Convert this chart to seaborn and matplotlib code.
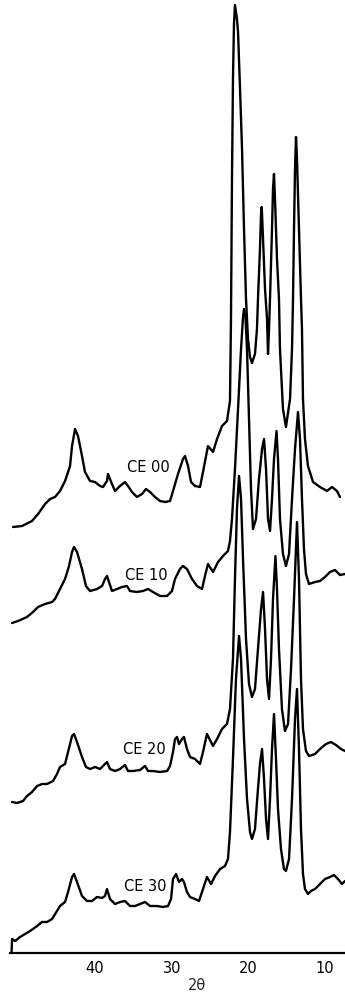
import numpy as np
import pandas as pd
import matplotlib
matplotlib.use("Agg")
import matplotlib.pyplot as plt
import seaborn as sns

# ---- data (2theta in degrees, intensity in arbitrary units) ----
samples = ["CE 00", "CE 10", "CE 20", "CE 30"]
offsets = [424, 329, 149, 9]

tt_ce00 = [50.69, 49.52, 48.22, 47.43, 46.52, 45.87, 45.22, 44.57, 43.91, 43.26, 43.00, 42.61, 42.22, 41.70,
           41.31, 40.65, 40.00, 39.35, 38.96, 38.44, 38.31, 37.79, 37.39, 36.74, 36.09, 35.70, 35.18, 34.53,
           33.87, 33.35, 32.83, 32.18, 31.53, 30.87, 30.22, 29.83, 29.18, 28.53, 28.27, 27.87, 27.48, 26.96,
           26.31, 25.92, 25.27, 24.61, 24.09, 23.44, 22.79,
           22.40, 22.27, 22.14, 22.01, 21.88, 21.75, 21.49, 21.35, 21.09, 20.83, 20.57, 20.31, 20.05, 19.79,
           19.53, 19.14, 18.88, 18.75, 18.49, 18.35, 18.26, 18.09, 17.83, 17.57, 17.44, 17.31, 17.18, 16.92,
           16.79, 16.66, 16.53, 16.27, 16.01, 15.88, 15.49, 15.10, 14.57, 14.31, 14.18, 14.05, 13.92, 13.79,
           13.66, 13.40, 13.14, 13.01, 12.88, 12.62, 12.23, 11.57, 10.66, 9.75, 9.10, 8.45, 8.05]
int_ce00 = [2, 3, 8, 15, 25, 30, 32, 38, 48, 63, 83, 100, 93, 73,
            57, 48, 47, 43, 42, 48, 55, 45, 38, 43, 47, 43, 37, 32,
            35, 40, 37, 32, 28, 27, 28, 38, 55, 70, 73, 63, 47, 43,
            42, 57, 83, 77, 90, 103, 108,
            128, 210, 350, 450, 505, 524, 510, 497, 440, 380, 300, 230, 190, 172,
            166, 175, 200, 230, 280, 315, 322, 290, 240, 210, 175, 200, 230, 300,
            340, 355, 330, 270, 230, 180, 120, 102, 130, 180, 230, 300, 360, 392,
            370, 300, 230, 200, 130, 90, 63, 47, 42, 38, 42, 38, 32]

tt_ce10 = [50.82, 50.04, 48.87, 48.09, 47.43, 46.52, 45.61, 45.22, 44.57, 43.91, 43.39, 43.00, 42.74, 42.35,
           41.70, 41.18, 40.65, 39.74, 39.09, 38.70, 38.44, 38.18, 37.79, 37.13, 36.48, 35.83, 35.44, 34.53,
           33.74, 33.09, 32.44, 31.53, 30.61, 29.96, 29.57, 28.92, 28.53, 28.01, 27.35, 26.70, 26.05, 25.66,
           25.27, 24.61, 23.96, 23.31, 22.66, 22.40,
           22.14, 21.75, 21.35, 20.96, 20.70, 20.57, 20.38, 20.18, 19.92, 19.66, 19.40, 19.01, 18.62, 18.22,
           17.96, 17.70, 17.44, 17.18, 16.92, 16.66, 16.33, 16.14, 15.88, 15.49, 15.10, 14.70, 14.31, 13.92,
           13.53, 13.27, 13.01, 12.75, 12.49, 12.10, 11.31, 10.66, 10.01, 9.36, 8.71, 8.05, 7.40]
int_ce10 = [1, 3, 7, 12, 17, 20, 22, 25, 35, 45, 58, 72, 77, 72,
            55, 38, 33, 35, 38, 45, 48, 42, 33, 35, 37, 38, 33, 32,
            33, 35, 32, 28, 28, 33, 45, 55, 58, 55, 45, 38, 35, 48,
            60, 52, 62, 68, 73, 83,
            105, 155, 215, 275, 307, 315, 307, 275, 205, 135, 95, 105, 145, 175,
            185, 155, 105, 93, 125, 165, 193, 165, 105, 70, 58, 70, 125, 175,
            212, 185, 125, 75, 50, 40, 42, 43, 47, 52, 54, 49, 50]

tt_ce20 = [50.82, 50.17, 49.39, 48.87, 48.22, 47.56, 46.91, 46.26, 45.48, 44.96, 44.57, 43.91, 43.52, 43.00,
           42.74, 42.35, 41.70, 41.18, 40.65, 40.00, 39.35, 38.70, 38.44, 38.05, 37.39, 36.74, 36.09, 35.70,
           35.05, 34.13, 33.48, 33.09, 32.44, 31.53, 30.61, 30.22, 29.83, 29.57, 29.31, 29.05, 28.66, 28.40,
           28.01, 27.61, 26.96, 26.31, 25.92, 25.40, 24.87, 24.61, 24.09, 23.44, 22.79, 22.40,
           22.01, 21.75, 21.49, 21.22, 20.96, 20.70, 20.31, 19.92, 19.53, 19.14, 18.75, 18.35, 18.09, 17.83,
           17.57, 17.31, 17.05, 16.79, 16.47, 16.27, 16.01, 15.62, 15.23, 14.83, 14.44, 14.05, 13.66, 13.40,
           13.14, 12.88, 12.49, 12.10, 11.31, 10.66, 9.88, 9.23, 8.58, 7.92, 7.40]
int_ce20 = [2, 1, 3, 8, 12, 18, 20, 20, 23, 30, 37, 40, 52, 68,
            70, 62, 47, 37, 35, 37, 35, 40, 42, 35, 33, 35, 39, 33,
            33, 34, 38, 33, 33, 32, 33, 38, 52, 65, 67, 60, 65, 67,
            55, 47, 45, 40, 52, 70, 62, 58, 65, 75, 80, 95,
            145, 225, 295, 328, 305, 245, 165, 120, 107, 115, 155, 195, 212, 175,
            125, 105, 145, 205, 248, 215, 155, 95, 73, 80, 135, 205, 282, 225,
            125, 75, 53, 48, 50, 55, 60, 62, 59, 55, 53]

tt_ce30 = [50.89, 50.82, 50.43, 49.78, 49.13, 48.47, 47.56, 46.91, 46.26, 45.61, 44.96, 44.57, 43.91, 43.52,
           43.00, 42.74, 42.35, 41.70, 41.04, 40.39, 39.74, 39.09, 38.70, 38.44, 38.05, 37.39, 36.74, 36.09,
           35.44, 34.79, 34.13, 33.48, 32.83, 31.92, 31.13, 30.48, 30.09, 29.83, 29.44, 29.05, 28.66, 28.40,
           28.01, 27.61, 26.96, 26.44, 25.92, 25.40, 24.87, 24.35, 23.70, 23.05, 22.66, 22.40,
           22.01, 21.62, 21.22, 20.96, 20.57, 20.18, 19.79, 19.53, 19.14, 18.75, 18.49, 18.22, 17.96, 17.70,
           17.44, 17.18, 16.92, 16.66, 16.40, 16.14, 15.75, 15.36, 15.10, 14.70, 14.31, 13.92, 13.66, 13.40,
           13.14, 12.88, 12.62, 12.23, 11.84, 11.31, 10.66, 10.01, 9.36, 8.84, 8.32, 7.79, 7.40]
int_ce30 = [-9, 5, 3, 7, 10, 13, 18, 22, 22, 25, 33, 38, 42, 52,
            67, 70, 62, 48, 43, 43, 47, 46, 48, 55, 45, 40, 42, 43,
            38, 38, 40, 42, 38, 38, 37, 38, 45, 65, 70, 62, 65, 62,
            52, 47, 45, 43, 55, 67, 60, 68, 75, 78, 85, 112,
            185, 265, 308, 285, 205, 145, 112, 105, 115, 155, 180, 195, 165, 125,
            105, 145, 195, 230, 185, 135, 95, 75, 73, 85, 145, 225, 255, 195,
            115, 70, 55, 50, 53, 55, 60, 65, 67, 69, 65, 60, 63]

two_theta = [tt_ce00, tt_ce10, tt_ce20, tt_ce30]
intensity = [int_ce00, int_ce10, int_ce20, int_ce30]

x_ticks = [50, 40, 30, 20, 10]
x_tick_labels = ["", "40", "30", "20", "10"]

# ---- build long table ----
rows = []
for s, off, tt, it in zip(samples, offsets, two_theta, intensity):
    for a, b in zip(tt, it):
        rows.append({"sample": s, "two_theta": a, "y": b + off})
df = pd.DataFrame(rows)

sns.set_style("white")
plt.rcParams["font.family"] = ["DejaVu Sans"]

fig = plt.figure(figsize=(3.45, 9.95), dpi=100)
ax = fig.add_axes([10 / 345, 41 / 995, 335 / 345, 954 / 995])

sns.lineplot(data=df, x="two_theta", y="y", hue="sample", units="sample", estimator=None,
             palette=["black"] * 4, legend=False, linewidth=1.7, sort=False, ax=ax)

ax.set_xlim(51.09, 7.40)
ax.set_ylim(0, 954)

for sp in ["top", "left", "right"]:
    ax.spines[sp].set_visible(False)
ax.spines["bottom"].set_color("black")
ax.spines["bottom"].set_linewidth(1.6)

ax.set_yticks([])
ax.set_ylabel("")
ax.set_xticks(x_ticks)
ax.set_xticklabels(x_tick_labels)
ax.tick_params(axis="x", direction="in", length=5, width=1.3, pad=5, labelsize=10.5, colors="black")
ax.set_xlabel("2θ", fontsize=10.5)
ax.xaxis.set_label_coords(0.558, -0.025)
ax.xaxis.label.set_va("top")

# sample labels
label_pos = [(33.1, 63), (33.35, 50), (33.5, 55), (33.5, 58)]
for s, off, (lx, ly) in zip(samples, offsets, label_pos):
    ax.text(lx, off + ly, s, ha="center", va="center", fontsize=10.5, color="black")

fig.savefig("out.png", dpi=100)
